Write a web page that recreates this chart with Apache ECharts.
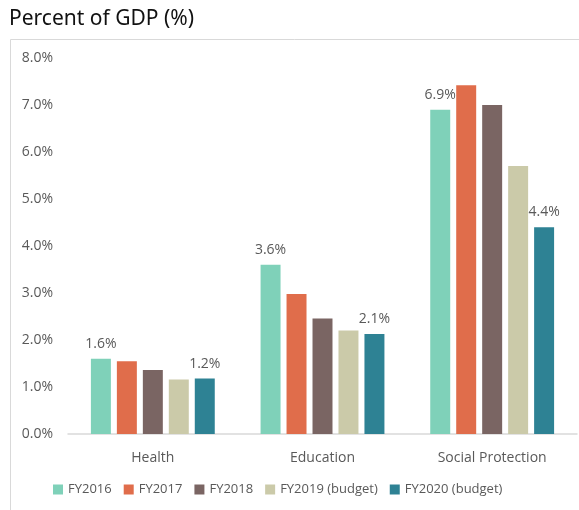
<!DOCTYPE html>
<html>
<head>
<meta charset="utf-8">
<script src="https://cdn.jsdelivr.net/npm/echarts@6/dist/echarts.min.js"></script>
<style>
  html, body { margin: 0; padding: 0; background: #fff; }
  #chart { width: 579px; height: 510px; }
</style>
</head>
<body>
<div id="chart"></div>
<script>
const categories = ['Health', 'Education', 'Social Protection'];
const seriesNames = ['FY2016', 'FY2017', 'FY2018', 'FY2019 (budget)', 'FY2020 (budget)'];
const fy2016 = [1.6, 3.6, 6.9];
const fy2017 = [1.55, 2.98, 7.42];
const fy2018 = [1.36, 2.46, 7.0];
const fy2019 = [1.16, 2.2, 5.7];
const fy2020 = [1.18, 2.13, 4.4];
const labelled = [true, false, false, false, true]; // only first and last series get labels
const colors = ['#7fd1b9', '#e06d4b', '#7a6563', '#cbcaa9', '#2e8294'];

function initChart() {
    const chart = echarts.init(document.getElementById('chart'));
    const allValues = [fy2016, fy2017, fy2018, fy2019, fy2020];
    const font = "'Open Sans', sans-serif";

    const series = allValues.map((vals, i) => ({
        name: seriesNames[i],
        type: 'bar',
        data: vals,
        barGap: '30%',
        barCategoryGap: '27%',
        itemStyle: { color: colors[i] },
        label: {
            show: labelled[i],
            position: 'top',
            distance: 8,
            color: '#595959',
            fontSize: 14,
            fontFamily: font,
            formatter: p => p.value.toFixed(1) + '%'
        }
    }));

    chart.setOption({
        animation: false,
        graphic: [
            {
                type: 'text', left: 9, top: 9,
                style: { text: 'Percent of GDP (%)', fontSize: 21, fontFamily: "'Noto Sans', sans-serif", fill: '#111' }
            },
            {
                type: 'line', shape: { x1: 10.5, y1: 39.5, x2: 579, y2: 39.5 },
                style: { stroke: '#d9d9d9', lineWidth: 1 }
            },
            {
                type: 'line', shape: { x1: 10.5, y1: 39.5, x2: 10.5, y2: 510 },
                style: { stroke: '#d9d9d9', lineWidth: 1 }
            }
        ],
        grid: { left: 68, right: 2, top: 58, bottom: 76 },
        legend: {
            bottom: 9,
            left: 48,
            itemWidth: 10,
            itemHeight: 10,
            itemGap: 12,
            icon: 'rect',
            textStyle: { color: '#595959', fontSize: 13, fontFamily: font }
        },
        xAxis: {
            type: 'category',
            data: categories,
            axisLine: { lineStyle: { color: '#d9d9d9', width: 1.5 } },
            axisTick: { show: false },
            axisLabel: { color: '#595959', fontSize: 14, fontFamily: font, margin: 17 }
        },
        yAxis: {
            type: 'value',
            min: 0,
            max: 8,
            interval: 1,
            axisLine: { show: false },
            axisTick: { show: false },
            splitLine: { show: false },
            axisLabel: {
                color: '#595959', fontSize: 14, fontFamily: font, margin: 15,
                formatter: v => v.toFixed(1) + '%'
            }
        },
        series: series
    });
}

initChart();
</script>
</body>
</html>
